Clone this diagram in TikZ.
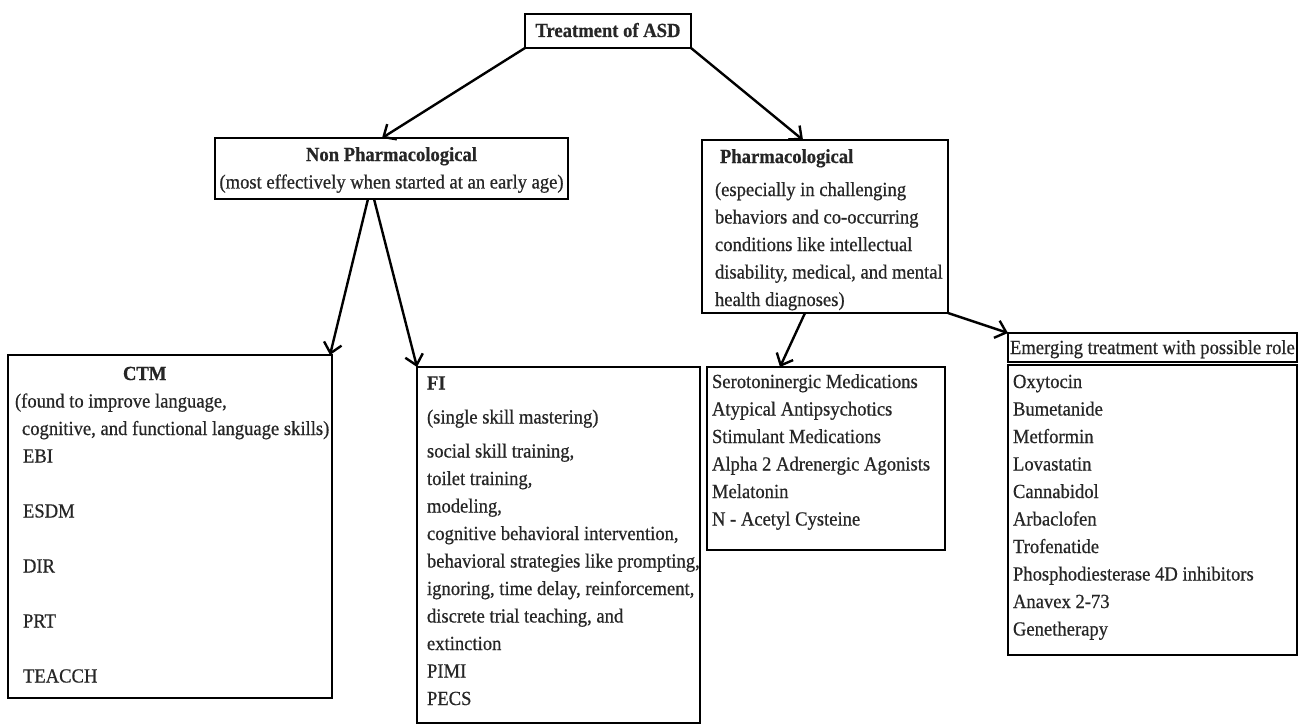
\documentclass[tikz,border=0pt]{standalone}
\usepackage{fontspec}
\setmainfont{Liberation Serif}[FakeStretch=0.93, FakeBold=0.6]
\usetikzlibrary{arrows.meta}
\tikzset{
  bx/.style={draw, line width=2.8pt, inner sep=0pt, outer sep=0pt, anchor=north west,
    font=\fontsize{20}{27.5}\selectfont, text=black!85},
  arr/.style={line width=2.4pt, -{Straight Barb[length=10pt,width=18pt]}},
}
\begin{document}
\begin{tikzpicture}[x=1pt,y=-1pt]
\fill[white] (0,0) rectangle (1304,725);
\useasboundingbox (0,0) rectangle (1304,725);

\node[bx] (top) at (525,14) {\parbox[t][34pt][t]{166pt}{\centering\vspace*{3.75pt}\strut\textbf{Treatment of ASD}}};

\node[bx] (np) at (215,138) {\parbox[t][61pt][t]{353pt}{\centering\vspace*{3.75pt}\strut\textbf{Non Pharmacological}\\
(most effectively when started at an early age)}};

\node[bx] (ph) at (702,140) {\parbox[t][173pt][t]{246pt}{\raggedright\leftskip=13pt\relax\vspace*{3.75pt}\strut\hspace*{5pt}\textbf{Pharmacological}\\[5.5pt]
(especially in challenging\\
behaviors and co-occurring\\
conditions like intellectual\\
\mbox{disability, medical, and mental}\\
health diagnoses)}};

\node[bx] (ctm) at (8,355) {\parbox[t][343pt][t]{324pt}{\raggedright\vspace*{5.75pt}\strut\hspace*{115pt}\textbf{CTM}\\
\hspace*{7pt}(found to improve language,\\
\hspace*{14pt}\mbox{cognitive, and functional language skills)}\\
\hspace*{15pt}EBI\\[27.5pt]
\hspace*{15pt}ESDM\\[27.5pt]
\hspace*{15pt}DIR\\[27.5pt]
\hspace*{15pt}PRT\\[27.5pt]
\hspace*{15pt}TEACCH}};

\node[bx] (fi) at (417,367) {\parbox[t][356pt][t]{283pt}{\raggedright\leftskip=10pt\relax\vspace*{3.25pt}\strut\textbf{FI}\\[6.5pt]
(single skill mastering)\\[6.5pt]
social skill training,\\
toilet training,\\
modeling,\\
\mbox{cognitive behavioral intervention,}\\
\mbox{behavioral strategies like prompting,}\\
\mbox{ignoring, time delay, reinforcement,}\\
discrete trial teaching, and\\
extinction\\
PIMI\\
PECS}};

\node[bx] (sero) at (707,367) {\parbox[t][183pt][t]{238pt}{\raggedright\leftskip=5pt\relax\vspace*{1.75pt}\strut Serotoninergic Medications\\
Atypical Antipsychotics\\
Stimulant Medications\\
\mbox{Alpha 2 Adrenergic Agonists}\\
Melatonin\\
N - Acetyl Cysteine}};

\node[bx] (emh) at (1008,333) {\parbox[t][29pt][t]{289pt}{\raggedright\leftskip=2pt\relax\vspace*{1.75pt}\strut\mbox{Emerging treatment with possible role}}};

\node[bx] (eml) at (1008,365) {\parbox[t][290pt][t]{289pt}{\raggedright\leftskip=5pt\relax\vspace*{3.75pt}\strut Oxytocin\\
Bumetanide\\
Metformin\\
Lovastatin\\
Cannabidol\\
Arbaclofen\\
Trofenatide\\
\mbox{Phosphodiesterase 4D inhibitors}\\
Anavex 2-73\\
Genetherapy}};

\draw[arr] (top.south west) -- ([xshift=167pt]np.north west);
\draw[arr] (top.south east) -- ([xshift=101pt]ph.north west);
\draw[arr] ([xshift=153pt]np.south west) -- ([xshift=-2pt]ctm.north east);
\draw[arr] ([xshift=159pt]np.south west) -- (fi.north west);
\draw[arr] ([xshift=103pt]ph.south west) -- ([xshift=73pt]sero.north west);
\draw[arr] (ph.south east) -- (emh.north west);
\end{tikzpicture}
\end{document}
